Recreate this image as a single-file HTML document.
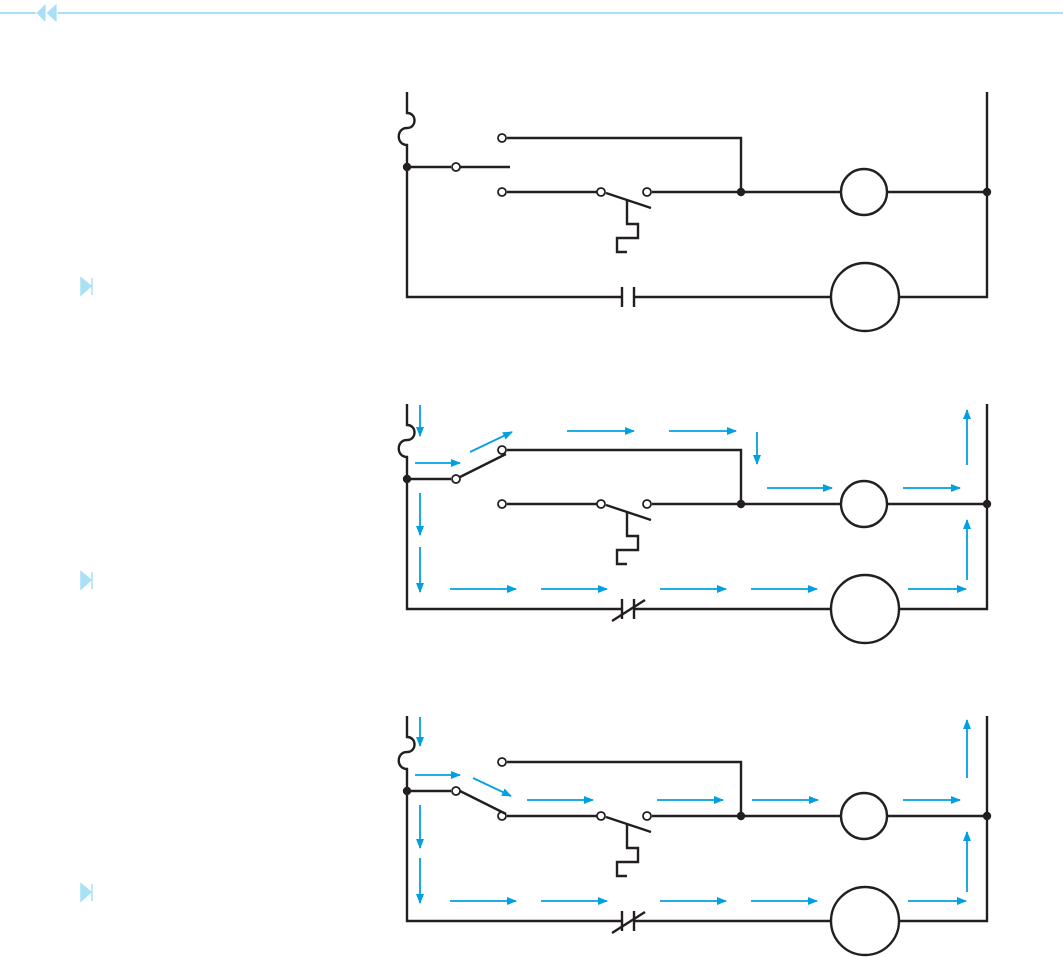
<!DOCTYPE html>
<html><head><meta charset="utf-8"><style>html,body{margin:0;padding:0;background:#fff;width:1063px;height:957px;overflow:hidden}</style></head><body>
<svg width="1063" height="957" viewBox="0 0 1063 957" xmlns="http://www.w3.org/2000/svg">
<defs>
<marker id="a" markerWidth="10" markerHeight="8" refX="9" refY="4" orient="auto" markerUnits="userSpaceOnUse"><path d="M0,0 L10,4 L0,8 Z" fill="#00a0e3"/></marker>
<g id="base" fill="none" stroke="#231f20" stroke-width="2.4">
<path d="M407,92 V113 C417,113 417,128 407,128 C396,128 396,145 407,145 V297 H622 M634,297 H832 M898,297 H987 V92"/>
<path d="M622,287 V307 M634,287 V307"/>
<path d="M407,167 H451"/>
<path d="M507,138 H741 V192 M507,192 H597 M652,192 H841 M887,192 H987"/>
<path d="M606,193 L651,208 M627,200 V224 H638 V238 H617 V252 H627"/>
<circle cx="864" cy="192" r="23"/>
<circle cx="865" cy="297" r="34"/>
<g fill="#fff" stroke-width="1.8"><circle cx="456" cy="167" r="4"/><circle cx="502" cy="138" r="4"/><circle cx="502" cy="192" r="4"/><circle cx="601" cy="192" r="4"/><circle cx="647" cy="192" r="4"/></g>
<g fill="#231f20" stroke="none"><circle cx="407" cy="167" r="4.2"/><circle cx="741" cy="192" r="4.2"/><circle cx="987" cy="192" r="4.2"/></g>
</g>
</defs>
<line x1="0" y1="13" x2="1063" y2="13" stroke="#a8e0f5" stroke-width="2"/>
<path d="M46,3 L36,13 L46,23 Z M57,3 L46,13 L57,23 Z" fill="#a8e0f5" stroke="#fff" stroke-width="0.8"/>
<path d="M81,278 L91,286 L81,295 Z M92,278 V295" fill="#a8e0f5" stroke="#a8e0f5" stroke-width="1.5"/>
<path d="M81,572 L91,580 L81,589 Z M92,572 V589" fill="#a8e0f5" stroke="#a8e0f5" stroke-width="1.5"/>
<path d="M81,884 L91,892 L81,901 Z M92,884 V901" fill="#a8e0f5" stroke="#a8e0f5" stroke-width="1.5"/>

<use href="#base"/>
<path d="M460,167 H510" stroke="#231f20" stroke-width="2.4"/>

<use href="#base" y="312"/>
<path d="M460,477 L506,454" stroke="#231f20" stroke-width="2.4" fill="none"/>
<path d="M612,621 L645,600" stroke="#231f20" stroke-width="2.4"/>
<g stroke="#00a0e3" stroke-width="1.8" fill="none" marker-end="url(#a)">
<path d="M420,405 V436"/><path d="M415,463 H460"/><path d="M470,452 L512,432"/>
<path d="M567,431 H634"/><path d="M669,431 H736"/><path d="M757,432 V464"/>
<path d="M767,488 H832"/><path d="M903,488 H960"/><path d="M967,465 V410"/>
<path d="M420,493 V535"/><path d="M420,547 V592"/>
<path d="M450,589 H516"/><path d="M541,589 H607"/><path d="M660,589 H726"/><path d="M751,589 H817"/><path d="M908,589 H966"/>
<path d="M967,580 V520"/>
</g>

<use href="#base" y="624"/>
<path d="M460,791 L506,814" stroke="#231f20" stroke-width="2.4" fill="none"/>
<path d="M612,933 L645,912" stroke="#231f20" stroke-width="2.4"/>
<g stroke="#00a0e3" stroke-width="1.8" fill="none" marker-end="url(#a)">
<path d="M420,717 V746"/><path d="M415,775 H460"/><path d="M473,778 L511,796"/>
<path d="M527,800 H593"/><path d="M657,800 H723"/><path d="M752,800 H818"/><path d="M903,800 H960"/>
<path d="M967,778 V720"/>
<path d="M420,805 V848"/><path d="M420,858 V903"/>
<path d="M450,901 H516"/><path d="M541,901 H607"/><path d="M660,901 H726"/><path d="M751,901 H817"/><path d="M908,901 H966"/>
<path d="M967,892 V832"/>
</g>
</svg>
</body></html>
